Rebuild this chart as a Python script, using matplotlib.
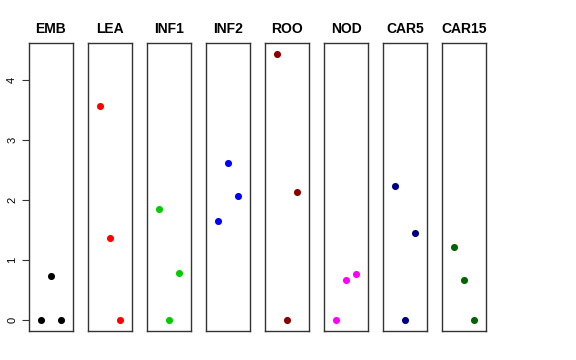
import numpy as np
import matplotlib
matplotlib.use("Agg")
import matplotlib.pyplot as plt

plt.rcParams['font.family'] = ['Liberation Sans', 'DejaVu Sans']

tissues = ["EMB", "LEA", "INF1", "INF2", "ROO", "NOD", "CAR5", "CAR15"]
colors = ["black", "red", "#00CD00", "blue", "darkred", "magenta", "navy", "darkgreen"]
reps = [1, 2, 3]
values = [
    [0.00, 0.74, 0.00],
    [3.56, 1.36, 0.00],
    [1.85, 0.00, 0.79],
    [1.65, 2.61, 2.06],
    [4.43, 0.00, 2.14],
    [0.00, 0.67, 0.77],
    [2.23, 0.00, 1.45],
    [1.21, 0.67, 0.00],
]

W, H = 576, 360
fig = plt.figure(figsize=(W / 100, H / 100), dpi=100)

ymax = max(max(v) for v in values)
pad = ymax * 0.04

for i, name in enumerate(tissues):
    left = 29 + 59 * i
    ax = fig.add_axes([left / W, (H - 331) / H, 44 / W, (331 - 43) / H])
    ax.scatter(reps, values[i], s=26, color=colors[i], zorder=3, linewidths=0)
    ax.set_xlim(2 - 2.14, 2 + 2.14)
    ax.set_ylim(-pad, ymax + pad)
    ax.set_xticks([])
    ax.set_title(name, fontsize=10, fontweight="bold", pad=7)
    for s in ax.spines.values():
        s.set_color("#333333")
        s.set_linewidth(1)
    if i == 0:
        ax.set_yticks([0, 1, 2, 3, 4])
        ax.tick_params(axis="y", labelsize=8, length=5, width=0.8, colors="#333333", labelcolor="black")
        for lab in ax.get_yticklabels():
            lab.set_rotation(90)
            lab.set_va("center")
    else:
        ax.set_yticks([])

fig.savefig("out.png", dpi=100)
